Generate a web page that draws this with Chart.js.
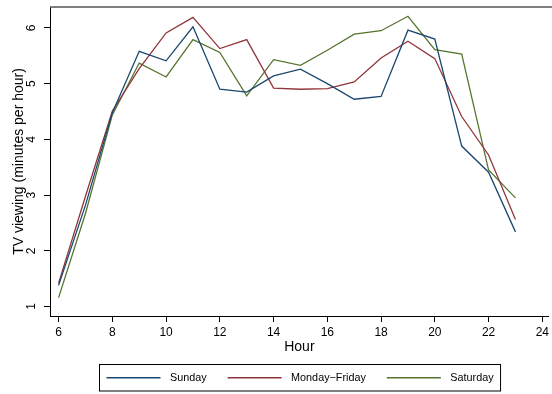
<!DOCTYPE html>
<html>
<head>
<meta charset="utf-8">
<script src="https://cdn.jsdelivr.net/npm/chart.js@4/dist/chart.umd.min.js"></script>
<style>
    html, body { margin: 0; padding: 0; background: #fff; }
    #wrap { width: 552px; height: 394px; position: relative; }
</style>
</head>
<body>
<div id="wrap"><canvas id="chart"></canvas></div>
<script>
// hours on the x axis
const hours = [6, 7, 8, 9, 10, 11, 12, 13, 14, 15, 16, 17, 18, 19, 20, 21, 22, 23];
// minutes per hour
const sunday = [1.38, 2.82, 4.48, 5.58, 5.41, 6.02, 4.90, 4.85, 5.14, 5.26, 5.00, 4.72, 4.77, 5.96, 5.80, 3.88, 3.41, 2.34];
const weekday = [1.42, 2.98, 4.51, 5.27, 5.91, 6.19, 5.63, 5.79, 4.92, 4.90, 4.91, 5.03, 5.46, 5.76, 5.45, 4.41, 3.72, 2.56];
const saturday = [1.16, 2.67, 4.44, 5.37, 5.12, 5.79, 5.56, 4.78, 5.43, 5.33, 5.60, 5.89, 5.95, 6.21, 5.61, 5.53, 3.45, 2.95];
const xTicks = [6, 8, 10, 12, 14, 16, 18, 20, 22, 24];
const yTicks = [1, 2, 3, 4, 5, 6];
const seriesNames = ['Sunday', 'Monday\u2212Friday', 'Saturday'];
const seriesColors = ['#1a476f', '#90353b', '#55752f'];

const FONT = 'Arial, "Liberation Sans", Helvetica, sans-serif';

let toPoints = function (vals) {
    return hours.map((h, i) => ({ x: h, y: vals[i] }));
};

let datasets = [sunday, weekday, saturday].map((vals, i) => ({
    label: seriesNames[i],
    data: toPoints(vals),
    borderColor: seriesColors[i],
    backgroundColor: seriesColors[i],
    borderWidth: 1.3,
    pointRadius: 0,
    tension: 0,
    fill: false
}));

// rotated y tick labels, top frame line and the boxed legend
let stataBits = {
    id: 'stataBits',
    afterDraw: function (chart) {
        let ctx = chart.ctx;
        let area = chart.chartArea;
        let y = chart.scales.y;

        ctx.save();
        ctx.strokeStyle = '#555';
        ctx.lineWidth = 1.5;
        ctx.beginPath();
        ctx.moveTo(area.left, area.top);
        ctx.lineTo(chart.width, area.top);
        ctx.stroke();

        ctx.fillStyle = '#000';
        ctx.font = '12px ' + FONT;
        ctx.textAlign = 'center';
        ctx.textBaseline = 'middle';
        yTicks.forEach(v => {
            let py = y.getPixelForValue(v);
            ctx.save();
            ctx.translate(area.left - 18, py);
            ctx.rotate(-Math.PI / 2);
            ctx.fillText(String(v), 0, 0);
            ctx.restore();
        });

        // legend
        ctx.font = '10.8px ' + FONT;
        let sample = 54, gapText = 9.5, gapItem = 21, pad = 7;
        let widths = seriesNames.map(n => ctx.measureText(n).width);
        let total = pad * 2 + seriesNames.length * (sample + gapText) + widths.reduce((a, b) => a + b, 0) + gapItem * (seriesNames.length - 1);
        let cx = (area.left + area.right) / 2;
        let left = Math.round(cx - total / 2) + 0.5;
        let top = 364.5, h = 26.5;
        ctx.strokeStyle = '#000';
        ctx.lineWidth = 1;
        ctx.strokeRect(left, top, total, h);
        let mid = top + h / 2;
        let xx = left + pad;
        ctx.textAlign = 'left';
        seriesNames.forEach((n, i) => {
            ctx.strokeStyle = seriesColors[i];
            ctx.lineWidth = 1.3;
            ctx.beginPath();
            ctx.moveTo(xx, mid);
            ctx.lineTo(xx + sample, mid);
            ctx.stroke();
            xx += sample + gapText;
            ctx.fillStyle = '#000';
            ctx.fillText(n, xx, mid + 0.5);
            xx += widths[i] + gapItem;
        });
        ctx.restore();
    }
};

new Chart(document.getElementById('chart'), {
    type: 'line',
    data: { datasets: datasets },
    options: {
        responsive: true,
        maintainAspectRatio: false,
        animation: false,
        layout: { padding: { top: 7, right: 0, left: 0, bottom: 0 } },
        plugins: {
            legend: { display: false },
            tooltip: { enabled: false }
        },
        scales: {
            x: {
                type: 'linear',
                min: 5.68,
                max: 24.24,
                afterBuildTicks: axis => { axis.ticks = xTicks.map(v => ({ value: v })); },
                afterFit: axis => { axis.height = 78; },
                grid: { drawOnChartArea: false, drawTicks: true, tickLength: 6, color: '#000' },
                border: { display: true, color: '#000', width: 1 },
                ticks: { color: '#000', font: { size: 12, family: FONT }, padding: 3, maxRotation: 0 },
                title: { display: true, text: 'Hour', color: '#000', font: { size: 14, family: FONT }, padding: { top: 0, bottom: 38 } }
            },
            y: {
                type: 'linear',
                min: 0.83,
                max: 6.376,
                afterBuildTicks: axis => { axis.ticks = yTicks.map(v => ({ value: v })); },
                afterFit: axis => { axis.width = 50; },
                grid: { drawOnChartArea: false, drawTicks: true, tickLength: 6, color: '#000' },
                border: { display: true, color: '#000', width: 1 },
                ticks: { display: false },
                title: { display: true, text: 'TV viewing (minutes per hour)', color: '#000', font: { size: 14, family: FONT }, padding: { top: 11, bottom: 0 } }
            }
        }
    },
    plugins: [stataBits]
});
</script>
</body>
</html>
